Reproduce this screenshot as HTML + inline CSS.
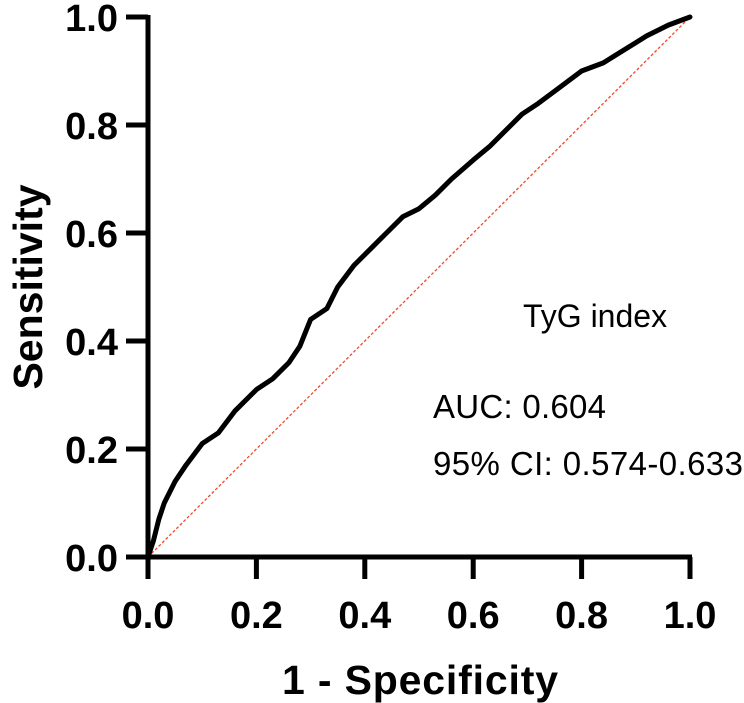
<!DOCTYPE html>
<html><head><meta charset="utf-8"><style>body{margin:0;background:#fff}svg{display:block}</style></head>
<body>
<svg width="744" height="703" font-family="Liberation Sans, Arial, sans-serif">
<g id="plot"></g>
<text transform="translate(42,287) rotate(-90)" text-anchor="middle" font-weight="bold" font-size="41">Sensitivity</text>
<text x="420" y="694" text-anchor="middle" font-weight="bold" font-size="41" textLength="276">1 - Specificity</text>
<text x="523" y="327" font-size="32">TyG index</text>
<text x="433" y="418" font-size="33" textLength="173">AUC: 0.604</text>
<text x="433" y="475" font-size="33" textLength="310">95% CI: 0.574-0.633</text>
</svg>
<script>
const fpr=[0,0.01,0.02,0.03,0.05,0.07,0.1,0.13,0.16,0.2,0.23,0.26,0.28,0.3,0.33,0.35,0.38,0.41,0.44,0.47,0.5,0.53,0.56,0.6,0.63,0.66,0.69,0.72,0.76,0.8,0.84,0.88,0.92,0.96,1];
const tpr=[0,0.03,0.07,0.1,0.14,0.17,0.21,0.23,0.27,0.31,0.33,0.36,0.39,0.44,0.46,0.5,0.54,0.57,0.6,0.63,0.645,0.67,0.7,0.735,0.76,0.79,0.82,0.84,0.87,0.9,0.915,0.94,0.965,0.985,1];
const ticks=[0,0.2,0.4,0.6,0.8,1.0];
const X0=148,X1=690,Y0=557,Y1=17;
const sx=v=>X0+v*(X1-X0), sy=v=>Y0-v*(Y0-Y1);
const g=document.getElementById('plot');const NS='http://www.w3.org/2000/svg';
function mk(t,a){const e=document.createElementNS(NS,t);for(const k in a)e.setAttribute(k,a[k]);g.appendChild(e);return e;}
let e=mk('line',{x1:sx(0),y1:sy(0),x2:sx(1),y2:sy(1),stroke:'#f04a2a','stroke-width':1.3,'stroke-dasharray':'3,2'});


e=mk('polyline',{points:fpr.map((f,i)=>sx(f)+','+sy(tpr[i])).join(' '),fill:'none',stroke:'#000','stroke-width':5,'stroke-linejoin':'round','stroke-linecap':'round'});


e=mk('path',{d:`M${X0},${Y1-2}V${Y0}H${X1+2}`,fill:'none',stroke:'#000','stroke-width':5});


ticks.forEach(t=>{
 let l=mk('line',{x1:sx(t),y1:Y0,x2:sx(t),y2:Y0+22,stroke:'#000','stroke-width':5});
 
 
 l=mk('line',{x1:X0-22,y1:sy(t),x2:X0,y2:sy(t),stroke:'#000','stroke-width':5});
 
 
 let tx=mk('text',{x:sx(t),y:628,'text-anchor':'middle','font-weight':'bold','font-size':38});
 tx.textContent=t.toFixed(1);
 
 
 tx=mk('text',{x:X0-30,y:sy(t)+14,'text-anchor':'end','font-weight':'bold','font-size':38});
 tx.textContent=t.toFixed(1);
 
 
});
</script>
</body></html>
